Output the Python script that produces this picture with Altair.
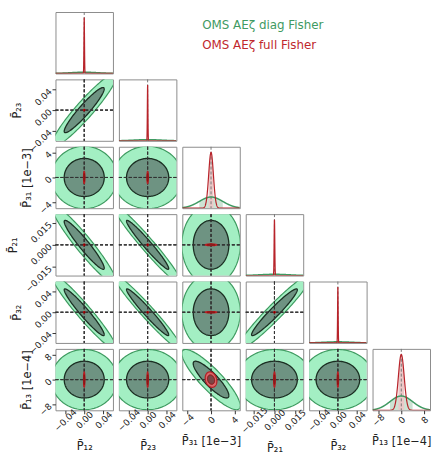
import numpy as np
import pandas as pd
import altair as alt

# ---------------- data ----------------
params = ["P12", "P23", "P31", "P21", "P32", "P13"]
axis_titles = ["P\u0304\u2081\u2082", "P\u0304\u2082\u2083", "P\u0304\u2083\u2081 [1e\u22123]",
               "P\u0304\u2082\u2081", "P\u0304\u2083\u2082", "P\u0304\u2081\u2083 [1e\u22124]"]
half_range = [0.06, 0.06, 4.9, 0.021, 0.06, 9.9]
tick_values = [[-0.04, 0.0, 0.04], [-0.04, 0.0, 0.04], [-4, 0, 4],
               [-0.015, 0.0, 0.015], [-0.04, 0.0, 0.04], [-8, 0, 8]]
tick_formats = [".2f", ".2f", ".0f", ".3f", ".2f", ".0f"]

# 1-sigma marginal errors (diag Fisher = green, full Fisher = red)
sigma_diag = [0.0275, 0.029, 2.0, 0.011, 0.030, 3.9]
sigma_full = [0.0006, 0.0006, 0.4, 0.00025, 0.0006, 1.0]

# correlation coefficients (pairs not listed are uncorrelated)
corr_pairs = [("P12", "P23"), ("P12", "P21"), ("P23", "P21"), ("P12", "P32"),
              ("P23", "P32"), ("P21", "P32"), ("P31", "P13")]
corr_diag = [0.94, -0.95, -0.97, -0.96, -0.97, 0.96, -0.87]
corr_full = [0.0, 0.0, 0.0, 0.0, 0.0, 0.0, -0.2]

# 68% / 95% 2-D contour radii (in sigma)
contour_levels = ["outer", "inner"]
contour_radius = [2.49, 1.52]

legend_labels = ["OMS AE\u03b6 diag Fisher", "OMS AE\u03b6 full Fisher"]
legend_colors = ["#3f9a62", "#c0282d"]

# ---------------- derived tables ----------------
rho_d = {frozenset(p): v for p, v in zip(corr_pairs, corr_diag)}
rho_f = {frozenset(p): v for p, v in zip(corr_pairs, corr_full)}
t = np.linspace(0, 2 * np.pi, 145)
recs = []
for c in range(6):
    for r in range(c + 1, 6):
        pid = f"{r}_{c}"
        for fs, sig, rmap in (("diag", sigma_diag, rho_d), ("full", sigma_full, rho_f)):
            rho = rmap.get(frozenset((params[c], params[r])), 0.0)
            for lev, k in zip(contour_levels, contour_radius):
                xs = k * sig[c] * np.cos(t)
                ys = k * sig[r] * (rho * np.cos(t) + np.sqrt(1 - rho ** 2) * np.sin(t))
                for n, (xv, yv) in enumerate(zip(xs, ys)):
                    recs.append((pid, fs, lev, n, float(xv), float(yv)))
ell_df = pd.DataFrame(recs, columns=["pid", "fisher", "lev", "i", "x", "y"])

drecs = []
ymax = []
for p in range(6):
    h = half_range[p]
    sd, sf = sigma_diag[p], sigma_full[p]
    xs = np.union1d(np.linspace(-h, h, 241), np.linspace(-6 * sf, 6 * sf, 121))
    xs = np.union1d(xs, [-sd, sd, -sf, sf])
    for fs, sig in (("diag", sd), ("full", sf)):
        pdf = np.exp(-0.5 * (xs / sig) ** 2) / (sig * np.sqrt(2 * np.pi))
        for xv, yv in zip(xs, pdf):
            drecs.append((p, fs, float(xv), float(yv), bool(abs(xv) <= sig * 1.0000001)))
    ymax.append(1.1 / (min(sd, sf) * np.sqrt(2 * np.pi)))
diag_df = pd.DataFrame(drecs, columns=["p", "fisher", "x", "pdf", "band"])

# ---------------- chart ----------------
W, H = 58, 62
FONT = "DejaVu Sans"


def xscale(c):
    return alt.Scale(domain=[-half_range[c], half_range[c]], nice=False, zero=False)


def x_axis(c, show):
    if not show:
        return None
    return alt.Axis(title=axis_titles[c], values=tick_values[c], format=tick_formats[c],
                    labelAngle=315, labelAlign="center", labelBaseline="middle",
                    labelPadding=6, titlePadding=8, labelOverlap=False)


def y_axis(r, show):
    if not show:
        return None
    return alt.Axis(title=axis_titles[r], values=tick_values[r], format=tick_formats[r],
                    labelAngle=315, labelAlign="right", labelBaseline="middle",
                    labelPadding=2, titlePadding=5, labelOverlap=False)


def pair_panel(r, c):
    pid = f"{r}_{c}"
    xa = x_axis(c, r == 5)
    ya = y_axis(r, c == 0)
    xs, ys = xscale(c), xscale(r)
    enc = dict(x=alt.X("x:Q", scale=xs, axis=xa), y=alt.Y("y:Q", scale=ys, axis=ya),
               order="i:Q")
    base = alt.Chart(ell_df)

    def poly(fs, lev, fill, stroke, sw):
        return base.transform_filter(
            f"datum.pid == '{pid}' && datum.fisher == '{fs}' && datum.lev == '{lev}'"
        ).mark_line(fill=fill, stroke=stroke, strokeWidth=sw, clip=True).encode(**enc)

    vrule = alt.Chart(ell_df).transform_filter("datum.i == 0 && datum.pid == '1_0'").mark_rule(
        color="#333333", strokeDash=[3, 2], strokeWidth=0.8).encode(
        x=alt.XDatum(0, scale=xs, axis=xa))
    hrule = alt.Chart(ell_df).transform_filter("datum.i == 0 && datum.pid == '1_0'").mark_rule(
        color="#333333", strokeDash=[3, 2], strokeWidth=0.8).encode(
        y=alt.YDatum(0, scale=ys, axis=ya))
    return alt.layer(
        poly("diag", "outer", "#a3efc3", "#3d9a5f", 1.2),
        poly("diag", "inner", "#6e9382", "#1b2e22", 1.3),
        vrule, hrule,
        poly("full", "outer", "#d9676a", "#b51f24", 1.2),
        poly("full", "inner", "#7a4646", "#8b1010", 1.0),
    ).properties(width=W, height=H)


def diag_panel(p):
    xa = x_axis(p, p == 5)
    xs = xscale(p)
    ysc = alt.Scale(domain=[0, ymax[p]], nice=False, zero=False)
    enc = dict(x=alt.X("x:Q", scale=xs, axis=xa), y=alt.Y("pdf:Q", scale=ysc, axis=None))
    base = alt.Chart(diag_df)
    g_shade = base.transform_filter(f"datum.p == {p} && datum.fisher == 'diag' && datum.band").mark_area(
        color="#cde3d4", clip=True).encode(**enc)
    r_shade = base.transform_filter(f"datum.p == {p} && datum.fisher == 'full' && datum.band").mark_area(
        color="#ecc8c8", clip=True).encode(**enc)
    vrule = base.transform_filter(f"datum.p == {p} && datum.x == 0 && datum.fisher == 'diag'").mark_rule(
        color="#777777", strokeDash=[3, 2], strokeWidth=1).encode(x=alt.XDatum(0, scale=xs, axis=xa))
    g_line = base.transform_filter(f"datum.p == {p} && datum.fisher == 'diag'").mark_line(
        color="#3f9a62", strokeWidth=1.5, clip=True).encode(**enc)
    r_line = base.transform_filter(f"datum.p == {p} && datum.fisher == 'full'").mark_line(
        color="#b8232a", strokeWidth=1.2, clip=True).encode(**enc)
    return alt.layer(g_shade, r_shade, vrule, g_line, r_line).properties(width=W, height=H)


leg_df = pd.DataFrame({"label": legend_labels, "color": legend_colors})


def empty_cell():
    return alt.Chart(leg_df).mark_point(opacity=0).encode(
        x=alt.value(0), y=alt.value(0)).properties(
        width=W, height=H, view=alt.ViewBackground(strokeOpacity=0))


def legend_cell():
    layers = []
    for k, lab in enumerate(legend_labels):
        layers.append(alt.Chart(leg_df).transform_filter(f"datum.label == '{lab}'").mark_text(
            align="left", baseline="middle", fontSize=12, font=FONT, color=legend_colors[k]
        ).encode(x=alt.value(20), y=alt.value(13 + 20 * k), text="label:N"))
    return alt.layer(*layers).properties(width=W, height=H, view=alt.ViewBackground(strokeOpacity=0))


cells = []
for r in range(6):
    for c in range(6):
        if c == r:
            cells.append(diag_panel(r))
        elif c < r:
            cells.append(pair_panel(r, c))
        elif r == 0 and c == 2:
            cells.append(legend_cell())
        else:
            cells.append(empty_cell())

chart = alt.concat(*cells, columns=6, spacing=6, bounds="flush").properties(
    padding={"left": 7, "top": 7, "right": 0, "bottom": 0}
).configure_view(stroke="#8c8c8c", strokeWidth=1).configure_axis(
    labelFont=FONT, labelFontSize=9, titleFont=FONT, titleFontSize=11.5,
    titleFontWeight="normal", tickSize=3.5, tickColor="#333333", labelColor="#222222",
    titleColor="#222222", domain=False, grid=False
)

chart.save("out.html", embed_options={"renderer": "svg", "actions": False})
